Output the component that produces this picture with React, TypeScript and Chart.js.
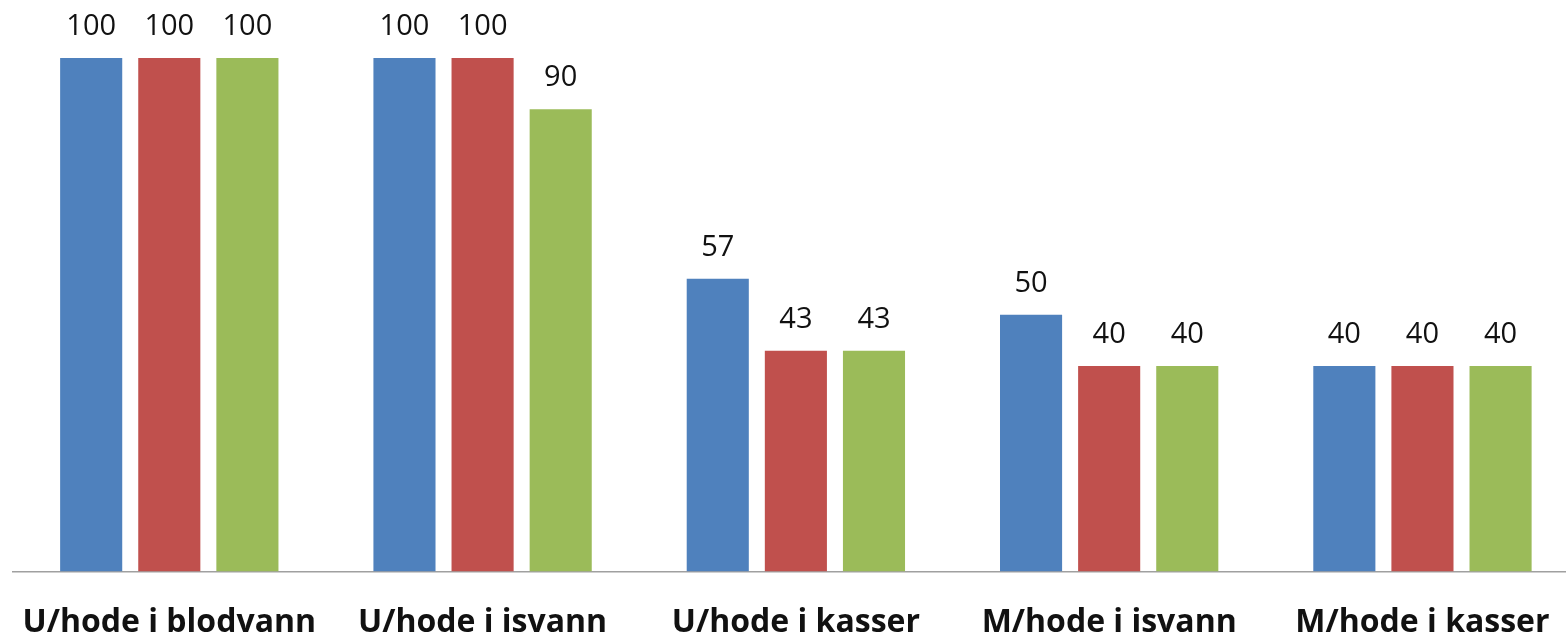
import React, { useEffect, useRef } from "react";
import { Chart, registerables } from "chart.js";

Chart.register(...registerables);

const categories = ["U/hode i blodvann", "U/hode i isvann", "U/hode i kasser", "M/hode i isvann", "M/hode i kasser"];
const seriesA = [100, 100, 57, 50, 40];
const seriesB = [100, 100, 43, 40, 40];
const seriesC = [100, 90, 43, 40, 40];
const seriesColors = ["#4F81BD", "#C0504D", "#9BBB59"];

const valueLabels = {
  id: "valueLabels",
  afterDatasetsDraw(chart: any) {
    const ctx = chart.ctx;
    ctx.save();
    ctx.font = "29px 'Open Sans'";
    ctx.fillStyle = "#111";
    ctx.textAlign = "center";
    ctx.textBaseline = "alphabetic";
    chart.data.datasets.forEach((ds: any, i: number) => {
      const meta = chart.getDatasetMeta(i);
      meta.data.forEach((bar: any, j: number) => {
        ctx.fillText(String(ds.data[j]), bar.x, bar.y - 23);
      });
    });
    ctx.restore();
  },
};

export default function App() {
  const ref = useRef<HTMLCanvasElement>(null);
  useEffect(() => {
    const chart = new Chart(ref.current!, {
      type: "bar",
      data: {
        labels: categories,
        datasets: [seriesA, seriesB, seriesC].map((d, i) => ({
          data: d,
          backgroundColor: seriesColors[i],
          categoryPercentage: 0.748,
          barPercentage: 0.795,
        })),
      },
      options: {
        responsive: false,
        animation: false,
        layout: { padding: { top: 58, left: 12.65, right: 0.9, bottom: 2 } },
        plugins: { legend: { display: false }, tooltip: { enabled: false } },
        scales: {
          x: {
            grid: { display: false, drawTicks: false },
            border: { display: true, color: "#a0a0a0", width: 1.5 },
            afterFit: (scale: any) => {
              scale.height = 67.5;
              scale.paddingLeft = 0;
              scale.paddingRight = 0;
            },
            ticks: {
              padding: 32,
              color: "#111",
              font: { family: "'Open Sans'", size: 32, weight: "bold" },
              maxRotation: 0,
              autoSkip: false,
            },
          },
          y: { display: false, min: 0, max: 100 },
        },
      },
      plugins: [valueLabels],
    });
    return () => chart.destroy();
  }, []);
  return (
    <div style={{ position: "fixed", left: 0, top: 0, width: 1566, height: 641, overflow: "hidden", background: "#fff" }}>
      <canvas ref={ref} width={1580} height={641} style={{ display: "block" }} />
    </div>
  );
}
